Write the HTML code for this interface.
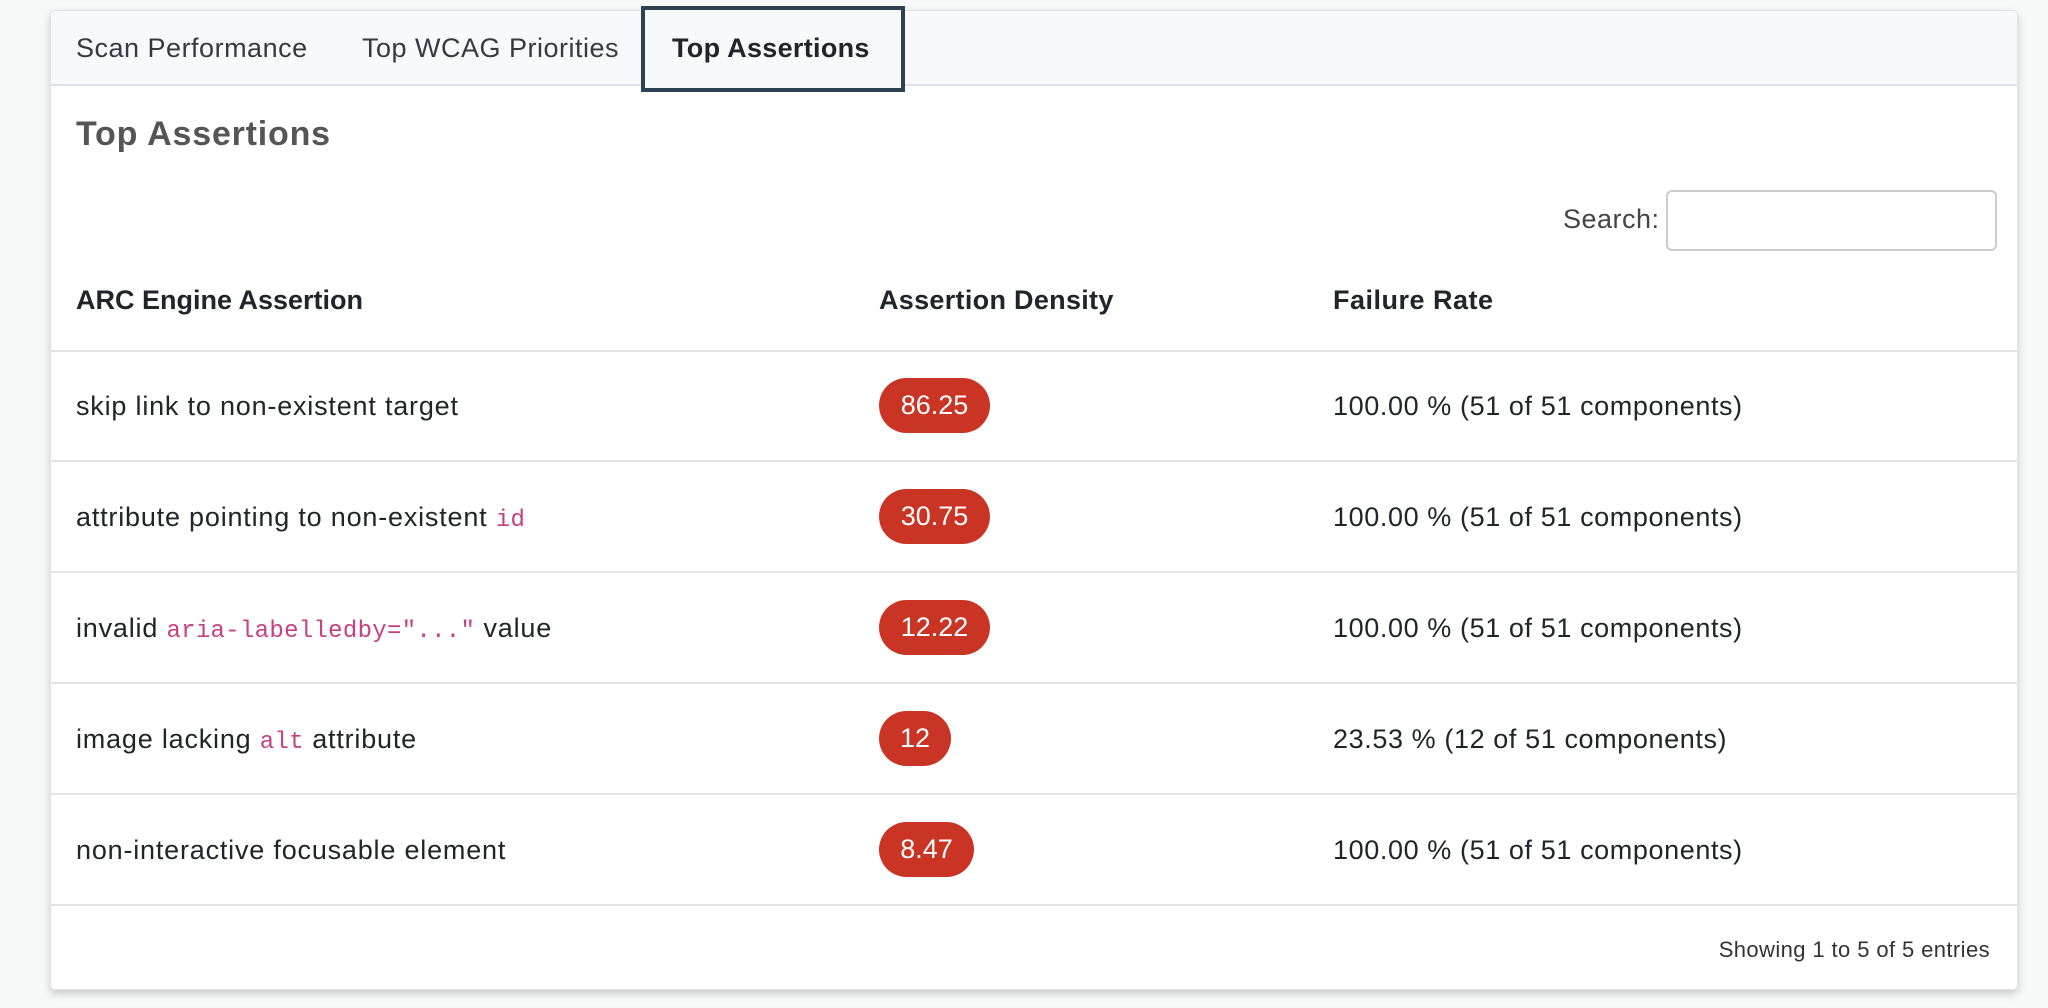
<!DOCTYPE html>
<html><head><meta charset="utf-8"><style>
*{margin:0;padding:0;box-sizing:border-box}
body{width:2048px;height:1008px;background:#f7f8f8;font-family:"Liberation Sans",sans-serif;color:#212529;position:relative;overflow:hidden}
.card{position:absolute;left:50px;top:10px;width:1968px;height:980px;background:#fff;border:1px solid #e3e3e3;border-radius:5px;box-shadow:0 4px 8px rgba(0,0,0,.18)}
.tabs{position:absolute;left:0;top:0;width:100%;height:75px;background:#f8f9fa;border-bottom:2px solid #dee2e6;border-radius:5px 5px 0 0}
.t{position:absolute;top:0;height:75px;line-height:75px;font-size:27px;letter-spacing:.5px;color:#343a40}
.act{position:absolute;left:590px;top:-5px;width:264px;height:86px;border:4px solid #2e4155;background:#f8f9fa}
.a{position:absolute;white-space:nowrap}
code{font-family:"Liberation Mono",monospace;color:#c7407f;font-size:24px;letter-spacing:.3px}
.b{position:absolute;left:828px;height:55px;border-radius:28px;background:#c93424;color:#fff;font-size:27px;line-height:55px;text-align:center}
.ln{position:absolute;left:0;width:100%;height:2px;background:#e2e4e6}
.r{font-size:27px;line-height:32px;letter-spacing:.8px}
.f{letter-spacing:.6px}
</style></head><body>
<div class="card">
<div class="tabs">
<div class="t" style="left:25px">Scan Performance</div>
<div class="t" style="left:311px">Top WCAG Priorities</div>
<div class="act"></div>
<div class="t" style="left:621px;font-weight:bold;color:#212529;letter-spacing:.3px">Top Assertions</div>
</div>
<div class="a" style="left:25px;top:104px;font-size:34px;letter-spacing:.8px;font-weight:bold;color:#555">Top Assertions</div>
<div class="a" style="left:1512px;top:193px;font-size:27px;letter-spacing:.5px;color:#444">Search:</div>
<div class="a" style="left:1615px;top:179px;width:331px;height:61px;border:2px solid #ccc;border-radius:6px"></div>
<div class="a r" style="left:25px;top:273px;font-weight:bold;letter-spacing:0">ARC Engine Assertion</div>
<div class="a r" style="left:828px;top:273px;font-weight:bold;letter-spacing:.3px">Assertion Density</div>
<div class="a r" style="left:1282px;top:273px;font-weight:bold;letter-spacing:.5px">Failure Rate</div>
<div class="ln" style="top:339px"></div>

<div class="a r" style="left:25px;top:379px">skip link to non-existent target</div>
<div class="b" style="top:367px;width:111px">86.25</div>
<div class="a r f" style="left:1282px;top:379px">100.00 % (51 of 51 components)</div>
<div class="ln" style="top:449px"></div>

<div class="a r" style="left:25px;top:490px">attribute pointing to non-existent <code>id</code></div>
<div class="b" style="top:478px;width:111px">30.75</div>
<div class="a r f" style="left:1282px;top:490px">100.00 % (51 of 51 components)</div>
<div class="ln" style="top:560px"></div>

<div class="a r" style="left:25px;top:601px">invalid <code>aria-labelledby="..."</code> value</div>
<div class="b" style="top:589px;width:111px">12.22</div>
<div class="a r f" style="left:1282px;top:601px">100.00 % (51 of 51 components)</div>
<div class="ln" style="top:671px"></div>

<div class="a r" style="left:25px;top:712px">image lacking <code>alt</code> attribute</div>
<div class="b" style="top:700px;width:72px">12</div>
<div class="a r f" style="left:1282px;top:712px">23.53 % (12 of 51 components)</div>
<div class="ln" style="top:782px"></div>

<div class="a r" style="left:25px;top:823px">non-interactive focusable element</div>
<div class="b" style="top:811px;width:95px">8.47</div>
<div class="a r f" style="left:1282px;top:823px">100.00 % (51 of 51 components)</div>
<div class="ln" style="top:893px"></div>

<div class="a" style="right:27px;top:926px;font-size:22px;letter-spacing:.4px;color:#333">Showing 1 to 5 of 5 entries</div>
</div>
</body></html>
